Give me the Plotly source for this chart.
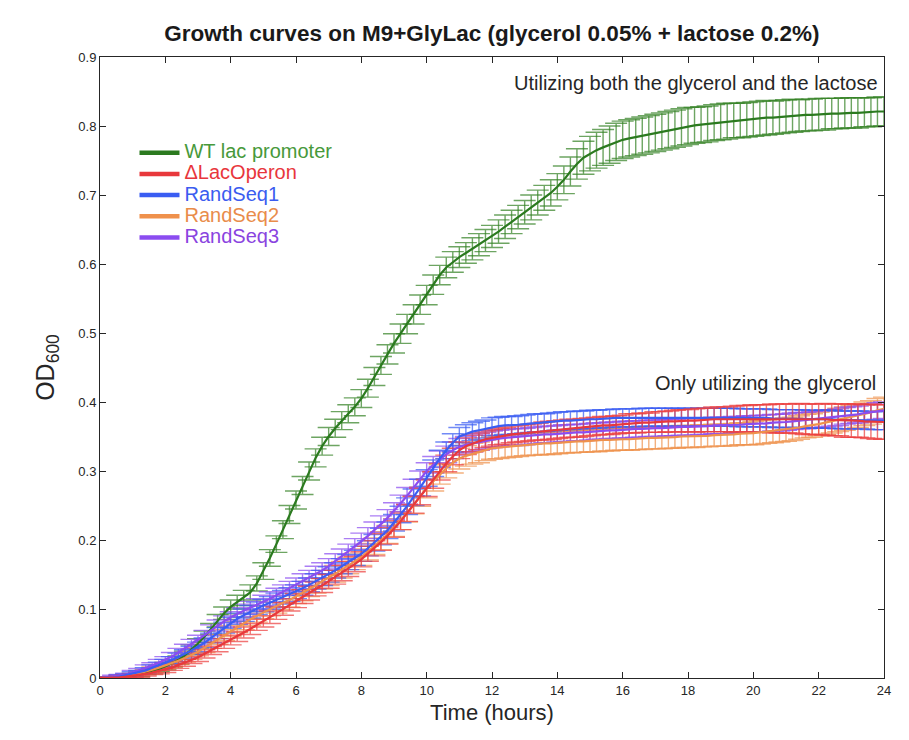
import numpy as np
import plotly.graph_objects as go

# Time grid (hours), one sample every 0.2 h
time_h = np.round(np.arange(0, 24.0001, 0.2), 1)

series_names = ["WT lac promoter", "ΔLacOperon", "RandSeq1", "RandSeq2", "RandSeq3"]

wt_mean = [
    0.000, 0.000, 0.001, 0.002, 0.003,
    0.004, 0.005, 0.008, 0.010, 0.013,
    0.017, 0.021, 0.026, 0.033, 0.041,
    0.050, 0.060, 0.071, 0.083, 0.094,
    0.103, 0.110, 0.116, 0.124, 0.137,
    0.155, 0.174, 0.194, 0.215, 0.237,
    0.258, 0.279, 0.300, 0.319, 0.336,
    0.350, 0.362, 0.373, 0.383, 0.393,
    0.405, 0.420, 0.437, 0.453, 0.469,
    0.485, 0.499, 0.513, 0.527, 0.541,
    0.555, 0.570, 0.584, 0.595, 0.603,
    0.610, 0.616, 0.622, 0.628, 0.634,
    0.640, 0.647, 0.654, 0.661, 0.668,
    0.675, 0.682, 0.689, 0.696, 0.703,
    0.712, 0.722, 0.734, 0.745, 0.754,
    0.760, 0.765, 0.769, 0.773, 0.777,
    0.780, 0.782, 0.784, 0.786, 0.788,
    0.790, 0.792, 0.794, 0.796, 0.798,
    0.800, 0.801, 0.802, 0.803, 0.805,
    0.806, 0.807, 0.808, 0.808, 0.809,
    0.810, 0.811, 0.812, 0.812, 0.813,
    0.814, 0.815, 0.815, 0.816, 0.816,
    0.817, 0.817, 0.818, 0.818, 0.819,
    0.819, 0.819, 0.820, 0.820, 0.821,
    0.821,
]
wt_err = [
    0.001, 0.001, 0.001, 0.002, 0.002,
    0.002, 0.003, 0.003, 0.004, 0.004,
    0.005, 0.005, 0.006, 0.006, 0.007,
    0.007, 0.008, 0.008, 0.009, 0.009,
    0.010, 0.010, 0.011, 0.011, 0.011,
    0.012, 0.012, 0.012, 0.013, 0.013,
    0.013, 0.013, 0.013, 0.013, 0.013,
    0.013, 0.013, 0.013, 0.013, 0.013,
    0.013, 0.013, 0.013, 0.013, 0.014,
    0.014, 0.014, 0.014, 0.014, 0.014,
    0.014, 0.014, 0.014, 0.015, 0.015,
    0.015, 0.015, 0.016, 0.016, 0.016,
    0.016, 0.017, 0.017, 0.017, 0.017,
    0.017, 0.018, 0.018, 0.018, 0.019,
    0.019, 0.020, 0.021, 0.022, 0.024,
    0.025, 0.026, 0.026, 0.027, 0.027,
    0.027, 0.027, 0.027, 0.027, 0.027,
    0.027, 0.027, 0.027, 0.027, 0.027,
    0.027, 0.026, 0.026, 0.026, 0.026,
    0.026, 0.026, 0.025, 0.025, 0.025,
    0.025, 0.025, 0.025, 0.024, 0.024,
    0.024, 0.024, 0.023, 0.023, 0.023,
    0.023, 0.023, 0.022, 0.022, 0.022,
    0.022, 0.022, 0.021, 0.021, 0.021,
    0.021,
]

dlac_mean = [
    0.000, 0.000, 0.001, 0.001, 0.002,
    0.003, 0.004, 0.006, 0.008, 0.010,
    0.012, 0.015, 0.019, 0.022, 0.026,
    0.030, 0.035, 0.040, 0.045, 0.050,
    0.055, 0.060, 0.066, 0.071, 0.077,
    0.082, 0.088, 0.094, 0.100, 0.106,
    0.112, 0.118, 0.123, 0.129, 0.134,
    0.140, 0.146, 0.152, 0.158, 0.165,
    0.172, 0.180, 0.188, 0.197, 0.206,
    0.216, 0.227, 0.239, 0.251, 0.263,
    0.275, 0.287, 0.299, 0.311, 0.321,
    0.330, 0.336, 0.340, 0.343, 0.346,
    0.348, 0.350, 0.351, 0.353, 0.354,
    0.355, 0.356, 0.357, 0.358, 0.359,
    0.360, 0.361, 0.362, 0.362, 0.363,
    0.364, 0.365, 0.366, 0.366, 0.367,
    0.368, 0.369, 0.369, 0.370, 0.370,
    0.371, 0.371, 0.372, 0.372, 0.373,
    0.373, 0.373, 0.374, 0.374, 0.375,
    0.375, 0.375, 0.375, 0.376, 0.376,
    0.376, 0.376, 0.376, 0.376, 0.376,
    0.376, 0.376, 0.376, 0.375, 0.375,
    0.375, 0.375, 0.374, 0.374, 0.373,
    0.373, 0.373, 0.372, 0.372, 0.371,
    0.371,
]
dlac_err = [
    0.001, 0.001, 0.001, 0.002, 0.002,
    0.002, 0.003, 0.003, 0.003, 0.004,
    0.004, 0.004, 0.005, 0.005, 0.005,
    0.006, 0.006, 0.006, 0.007, 0.007,
    0.007, 0.007, 0.008, 0.008, 0.008,
    0.008, 0.009, 0.009, 0.009, 0.009,
    0.010, 0.010, 0.010, 0.010, 0.010,
    0.010, 0.010, 0.011, 0.011, 0.011,
    0.011, 0.011, 0.011, 0.012, 0.012,
    0.012, 0.012, 0.012, 0.012, 0.012,
    0.012, 0.012, 0.012, 0.012, 0.012,
    0.012, 0.012, 0.012, 0.012, 0.012,
    0.012, 0.012, 0.012, 0.012, 0.012,
    0.012, 0.012, 0.012, 0.013, 0.013,
    0.013, 0.013, 0.013, 0.013, 0.013,
    0.013, 0.013, 0.013, 0.013, 0.013,
    0.013, 0.014, 0.014, 0.014, 0.014,
    0.015, 0.015, 0.015, 0.016, 0.016,
    0.016, 0.017, 0.017, 0.017, 0.018,
    0.018, 0.018, 0.019, 0.019, 0.019,
    0.020, 0.020, 0.020, 0.021, 0.021,
    0.021, 0.021, 0.022, 0.022, 0.022,
    0.022, 0.023, 0.023, 0.023, 0.024,
    0.024, 0.024, 0.024, 0.025, 0.025,
    0.025,
]

rand1_mean = [
    0.000, 0.000, 0.001, 0.002, 0.004,
    0.006, 0.008, 0.011, 0.015, 0.018,
    0.022, 0.026, 0.030, 0.035, 0.040,
    0.045, 0.051, 0.058, 0.065, 0.073,
    0.080, 0.086, 0.091, 0.096, 0.101,
    0.105, 0.109, 0.113, 0.117, 0.121,
    0.125, 0.130, 0.135, 0.140, 0.145,
    0.150, 0.156, 0.162, 0.168, 0.174,
    0.180, 0.188, 0.196, 0.205, 0.214,
    0.225, 0.237, 0.249, 0.262, 0.276,
    0.290, 0.304, 0.318, 0.330, 0.341,
    0.350, 0.354, 0.357, 0.359, 0.361,
    0.364, 0.365, 0.366, 0.366, 0.367,
    0.368, 0.369, 0.370, 0.370, 0.371,
    0.372, 0.373, 0.373, 0.374, 0.374,
    0.375, 0.375, 0.376, 0.376, 0.377,
    0.377, 0.377, 0.377, 0.378, 0.378,
    0.378, 0.378, 0.378, 0.378, 0.378,
    0.378, 0.378, 0.378, 0.378, 0.378,
    0.378, 0.378, 0.378, 0.377, 0.377,
    0.377, 0.377, 0.377, 0.376, 0.376,
    0.376, 0.376, 0.376, 0.375, 0.375,
    0.375, 0.375, 0.375, 0.374, 0.374,
    0.374, 0.374, 0.374, 0.373, 0.373,
    0.373,
]
rand1_err = [
    0.001, 0.001, 0.001, 0.002, 0.002,
    0.003, 0.003, 0.004, 0.004, 0.005,
    0.005, 0.005, 0.006, 0.006, 0.006,
    0.007, 0.007, 0.007, 0.008, 0.008,
    0.008, 0.008, 0.009, 0.009, 0.009,
    0.009, 0.009, 0.010, 0.010, 0.010,
    0.010, 0.010, 0.010, 0.011, 0.011,
    0.011, 0.011, 0.011, 0.011, 0.011,
    0.011, 0.011, 0.012, 0.012, 0.012,
    0.012, 0.012, 0.012, 0.012, 0.012,
    0.012, 0.012, 0.012, 0.012, 0.013,
    0.013, 0.013, 0.013, 0.013, 0.013,
    0.013, 0.013, 0.013, 0.013, 0.013,
    0.013, 0.013, 0.013, 0.013, 0.013,
    0.013, 0.013, 0.013, 0.013, 0.013,
    0.013, 0.013, 0.013, 0.013, 0.013,
    0.013, 0.013, 0.013, 0.013, 0.013,
    0.013, 0.013, 0.013, 0.013, 0.013,
    0.013, 0.013, 0.013, 0.013, 0.013,
    0.013, 0.013, 0.013, 0.013, 0.013,
    0.013, 0.013, 0.013, 0.013, 0.013,
    0.013, 0.013, 0.013, 0.013, 0.013,
    0.013, 0.013, 0.013, 0.013, 0.013,
    0.013, 0.013, 0.013, 0.013, 0.013,
    0.013,
]

rand2_mean = [
    0.000, 0.000, 0.001, 0.002, 0.003,
    0.005, 0.007, 0.009, 0.012, 0.015,
    0.018, 0.021, 0.025, 0.029, 0.033,
    0.038, 0.044, 0.050, 0.056, 0.062,
    0.068, 0.074, 0.079, 0.085, 0.090,
    0.095, 0.100, 0.104, 0.109, 0.113,
    0.118, 0.123, 0.129, 0.134, 0.140,
    0.145, 0.151, 0.157, 0.163, 0.169,
    0.175, 0.183, 0.191, 0.199, 0.208,
    0.218, 0.228, 0.239, 0.251, 0.263,
    0.275, 0.285, 0.295, 0.304, 0.312,
    0.318, 0.322, 0.325, 0.327, 0.330,
    0.333, 0.334, 0.335, 0.336, 0.337,
    0.338, 0.339, 0.339, 0.340, 0.340,
    0.341, 0.342, 0.342, 0.343, 0.343,
    0.344, 0.344, 0.345, 0.345, 0.346,
    0.346, 0.346, 0.347, 0.347, 0.348,
    0.348, 0.348, 0.349, 0.349, 0.350,
    0.350, 0.350, 0.351, 0.351, 0.352,
    0.352, 0.352, 0.353, 0.354, 0.354,
    0.355, 0.356, 0.357, 0.358, 0.359,
    0.360, 0.361, 0.363, 0.365, 0.366,
    0.368, 0.370, 0.372, 0.374, 0.376,
    0.378, 0.380, 0.383, 0.385, 0.388,
    0.390,
]
rand2_err = [
    0.001, 0.001, 0.001, 0.002, 0.002,
    0.002, 0.003, 0.003, 0.004, 0.004,
    0.005, 0.005, 0.005, 0.006, 0.006,
    0.006, 0.007, 0.007, 0.007, 0.008,
    0.008, 0.008, 0.009, 0.009, 0.009,
    0.009, 0.010, 0.010, 0.010, 0.010,
    0.010, 0.011, 0.011, 0.011, 0.011,
    0.011, 0.012, 0.012, 0.012, 0.012,
    0.012, 0.012, 0.012, 0.013, 0.013,
    0.013, 0.013, 0.013, 0.013, 0.014,
    0.014, 0.014, 0.014, 0.014, 0.015,
    0.015, 0.015, 0.015, 0.015, 0.015,
    0.016, 0.016, 0.016, 0.016, 0.016,
    0.016, 0.016, 0.016, 0.016, 0.016,
    0.016, 0.016, 0.016, 0.016, 0.016,
    0.016, 0.016, 0.016, 0.016, 0.016,
    0.016, 0.016, 0.016, 0.016, 0.016,
    0.016, 0.016, 0.016, 0.016, 0.016,
    0.016, 0.016, 0.016, 0.016, 0.016,
    0.016, 0.016, 0.016, 0.016, 0.016,
    0.017, 0.017, 0.017, 0.017, 0.017,
    0.017, 0.017, 0.017, 0.017, 0.017,
    0.017, 0.017, 0.017, 0.017, 0.017,
    0.017, 0.017, 0.017, 0.017, 0.017,
    0.017,
]

rand3_mean = [
    0.000, 0.001, 0.002, 0.003, 0.005,
    0.008, 0.011, 0.015, 0.018, 0.022,
    0.026, 0.031, 0.037, 0.043, 0.049,
    0.055, 0.062, 0.069, 0.076, 0.082,
    0.088, 0.093, 0.098, 0.102, 0.106,
    0.110, 0.115, 0.120, 0.125, 0.130,
    0.135, 0.140, 0.145, 0.151, 0.156,
    0.162, 0.169, 0.176, 0.183, 0.190,
    0.198, 0.206, 0.214, 0.223, 0.232,
    0.242, 0.253, 0.264, 0.276, 0.288,
    0.300, 0.309, 0.317, 0.324, 0.330,
    0.335, 0.338, 0.340, 0.342, 0.344,
    0.346, 0.347, 0.348, 0.349, 0.349,
    0.350, 0.351, 0.352, 0.353, 0.353,
    0.354, 0.355, 0.355, 0.356, 0.356,
    0.357, 0.358, 0.358, 0.359, 0.359,
    0.360, 0.360, 0.361, 0.361, 0.362,
    0.362, 0.362, 0.363, 0.363, 0.364,
    0.364, 0.364, 0.365, 0.365, 0.366,
    0.366, 0.366, 0.367, 0.367, 0.368,
    0.368, 0.369, 0.369, 0.370, 0.370,
    0.371, 0.372, 0.373, 0.373, 0.374,
    0.375, 0.376, 0.377, 0.378, 0.380,
    0.381, 0.382, 0.384, 0.385, 0.387,
    0.388,
]
rand3_err = [
    0.001, 0.001, 0.002, 0.002, 0.002,
    0.003, 0.003, 0.004, 0.004, 0.005,
    0.005, 0.006, 0.006, 0.006, 0.007,
    0.007, 0.007, 0.008, 0.008, 0.008,
    0.008, 0.009, 0.009, 0.009, 0.009,
    0.010, 0.010, 0.010, 0.010, 0.010,
    0.010, 0.011, 0.011, 0.011, 0.011,
    0.011, 0.011, 0.011, 0.011, 0.012,
    0.012, 0.012, 0.012, 0.012, 0.012,
    0.012, 0.012, 0.012, 0.012, 0.012,
    0.012, 0.012, 0.012, 0.012, 0.012,
    0.012, 0.012, 0.012, 0.012, 0.012,
    0.012, 0.012, 0.012, 0.012, 0.012,
    0.012, 0.012, 0.012, 0.012, 0.012,
    0.012, 0.012, 0.012, 0.012, 0.012,
    0.012, 0.012, 0.012, 0.012, 0.012,
    0.012, 0.012, 0.012, 0.012, 0.012,
    0.012, 0.012, 0.012, 0.012, 0.012,
    0.012, 0.012, 0.012, 0.012, 0.012,
    0.012, 0.012, 0.012, 0.012, 0.012,
    0.012, 0.012, 0.012, 0.012, 0.012,
    0.012, 0.012, 0.012, 0.012, 0.012,
    0.012, 0.012, 0.012, 0.012, 0.012,
    0.012, 0.012, 0.012, 0.012, 0.012,
    0.012,
]

x_ticks = [0, 2, 4, 6, 8, 10, 12, 14, 16, 18, 20, 22, 24]
y_ticks = [0, 0.1, 0.2, 0.3, 0.4, 0.5, 0.6, 0.7, 0.8, 0.9]

# styles: (line color, error color, legend text color)
styles = {
    "WT lac promoter": ("#2b7a1f", "rgba(52,130,38,0.72)", "#47993a"),
    "ΔLacOperon": ("#e8383c", "rgba(236,64,64,0.72)", "#e8363c"),
    "RandSeq1": ("#3a5df2", "rgba(58,93,242,0.72)", "#3b5cf0"),
    "RandSeq2": ("#ef914c", "rgba(238,145,76,0.72)", "#e98c4a"),
    "RandSeq3": ("#8b4cf0", "rgba(139,76,240,0.72)", "#8a44df"),
}
data = {
    "WT lac promoter": (wt_mean, wt_err),
    "ΔLacOperon": (dlac_mean, dlac_err),
    "RandSeq1": (rand1_mean, rand1_err),
    "RandSeq2": (rand2_mean, rand2_err),
    "RandSeq3": (rand3_mean, rand3_err),
}
draw_order = ["WT lac promoter", "RandSeq2", "RandSeq3", "RandSeq1", "ΔLacOperon"]

FONT = "Liberation Sans, Arial, Helvetica, sans-serif"
axis_color = "#262626"

fig = go.Figure()
for name in draw_order:
    mean, err = data[name]
    lc, ec, tc = styles[name]
    fig.add_trace(go.Scatter(
        x=time_h, y=mean, mode="lines",
        line=dict(color="rgba(0,0,0,0)", width=0.1),
        error_y=dict(type="data", array=err, visible=True, color=ec,
                     thickness=1.4, width=11),
        showlegend=False, hoverinfo="skip",
    ))
for name in draw_order:
    mean, err = data[name]
    lc, ec, tc = styles[name]
    fig.add_trace(go.Scatter(
        x=time_h, y=mean, mode="lines",
        line=dict(color=lc, width=2.2),
        showlegend=False, name=name,
    ))
for i, name in enumerate(series_names):
    lc, ec, tc = styles[name]
    fig.add_trace(go.Scatter(
        x=[None], y=[None], mode="lines",
        line=dict(color=lc, width=4.5),
        name=f"<span style='color:{tc};font-size:20px'>{name}</span>",
        showlegend=True, legendrank=i + 1,
    ))

fig.add_annotation(x=23.88, y=0.862, xref="x", yref="y",
                   text="Utilizing both the glycerol and the lactose",
                   showarrow=False, xanchor="right", yanchor="middle",
                   font=dict(size=20, color=axis_color, family=FONT))
fig.add_annotation(x=23.82, y=0.4275, xref="x", yref="y",
                   text="Only utilizing the glycerol",
                   showarrow=False, xanchor="right", yanchor="middle",
                   font=dict(size=20, color=axis_color, family=FONT))

fig.update_layout(
    width=909, height=740,
    margin=dict(l=92, r=33, t=49, b=70),
    paper_bgcolor="white", plot_bgcolor="white",
    font=dict(family=FONT, color=axis_color),
    title=dict(text="<b>Growth curves on M9+GlyLac (glycerol 0.05% + lactose 0.2%)</b>",
               x=0.5, xref="paper", y=1 - 25 / 740, yref="container",
               xanchor="center", yanchor="middle",
               font=dict(size=22.5, color="#1a1a1a")),
    legend=dict(x=0.044, y=0.871, xanchor="left", yanchor="top",
                bgcolor="rgba(0,0,0,0)", font=dict(size=14),
                itemwidth=40, tracegroupgap=0),
    showlegend=True,
)
fig.update_xaxes(range=[0, 24], tickvals=x_ticks, ticktext=[str(v) for v in x_ticks],
                 showgrid=False, zeroline=False, showline=True, linecolor=axis_color,
                 linewidth=1, mirror="ticks", ticks="inside", ticklen=6,
                 tickcolor=axis_color, tickfont=dict(size=13, color=axis_color),
                 title=dict(text="Time (hours)", font=dict(size=22, color=axis_color), standoff=8))
fig.update_yaxes(range=[0, 0.9], tickvals=y_ticks, ticktext=[f"{v:g}" for v in y_ticks],
                 showgrid=False, zeroline=False, showline=True, linecolor=axis_color,
                 linewidth=1, mirror="ticks", ticks="inside", ticklen=6,
                 tickcolor=axis_color, tickfont=dict(size=13, color=axis_color),
                 title=dict(text="OD<sub>600</sub>", font=dict(size=25, color=axis_color), standoff=16))

fig.write_html("out.html")
